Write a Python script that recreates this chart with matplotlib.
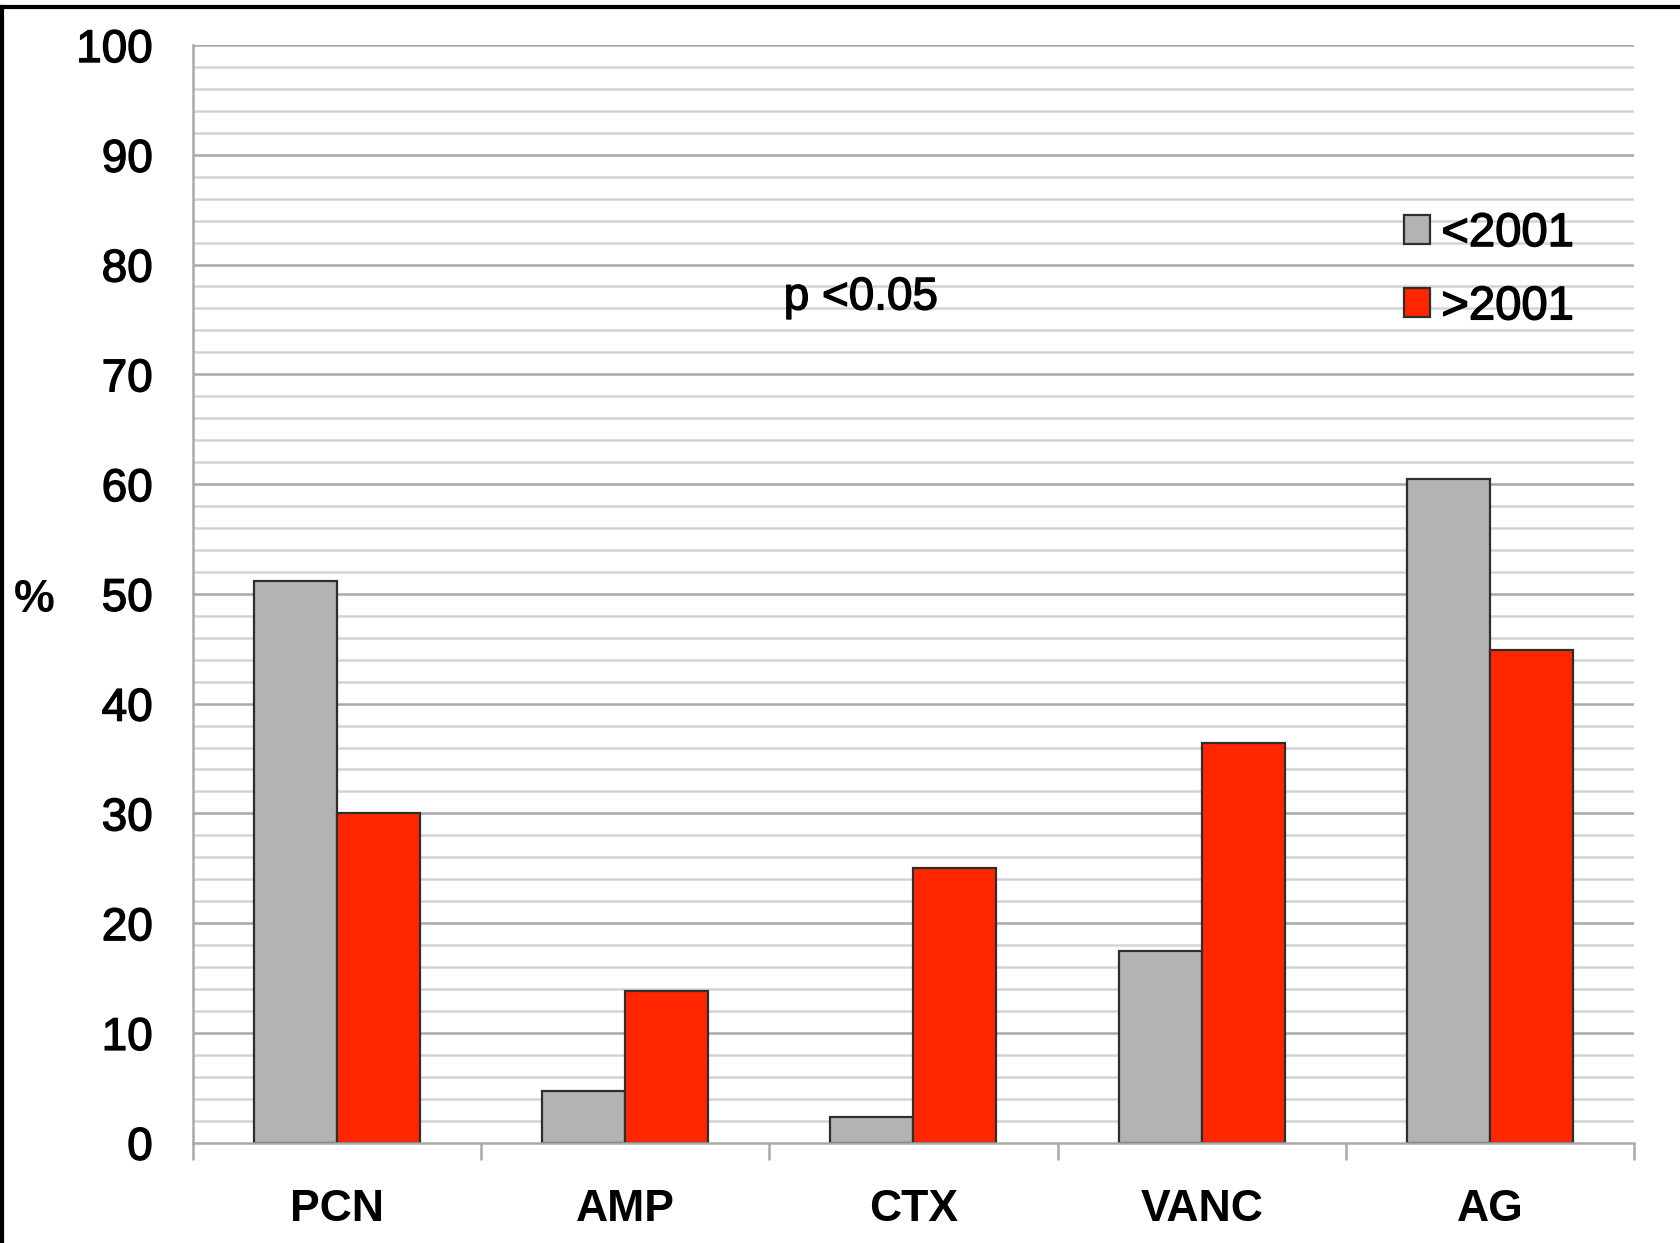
import matplotlib
matplotlib.use("Agg")
import matplotlib.pyplot as plt
import matplotlib.patheffects as pe
import numpy as np
from matplotlib.lines import Line2D
from matplotlib.patches import Patch

categories = ["PCN", "AMP", "CTX", "VANC", "AG"]
before_2001 = [51.2, 4.7, 2.3, 17.5, 60.5]
after_2001 = [30.0, 13.8, 25.0, 36.4, 44.9]
series_labels = ["<2001", ">2001"]
y_ticks = list(range(0, 101, 10))

GRAY = "#b3b3b3"
RED = "#ff2600"
EDGE = "#2e2e2e"
FONT = "Liberation Sans"
# slightly heavier strokes than the regular weight
HEAVY = [pe.withStroke(linewidth=1.0, foreground="black")]

fig = plt.figure(figsize=(16.81, 12.43), dpi=100)
ax = fig.add_axes([0.1148, 0.0807, 0.8572, 0.8831])

x = np.arange(len(categories))
width = 0.288
ax.bar(x - width / 2, before_2001, width, color=GRAY, edgecolor=EDGE, linewidth=1.6, zorder=3)
ax.bar(x + width / 2, after_2001, width, color=RED, edgecolor=EDGE, linewidth=1.6, zorder=3)

ax.set_xlim(-0.5, len(categories) - 0.5)
ax.set_ylim(0, 100)

# gridlines: minor every 2, major every 10
for v in np.arange(2, 100.1, 2):
    major = abs(v % 10) < 1e-9
    ax.axhline(v, color="#a9a9a9" if major else "#d4d4d4", linewidth=1.8, zorder=1)

ax.set_yticks(y_ticks)
ax.set_yticklabels([str(t) for t in y_ticks], fontsize=33, family=FONT, path_effects=HEAVY)
ax.tick_params(axis="y", length=0, pad=29)

ax.set_xticks(x)
ax.set_xticklabels(categories, fontsize=32, family=FONT, fontweight="bold")
ax.set_xticks(np.arange(-0.5, len(categories), 1), minor=True)
ax.tick_params(axis="x", which="major", length=0, pad=33)
ax.tick_params(axis="x", which="minor", length=12, width=1.8, color="#a9a9a9")

for side in ["top", "right"]:
    ax.spines[side].set_visible(False)
for side in ["left", "bottom"]:
    ax.spines[side].set_color("#a9a9a9")
    ax.spines[side].set_linewidth(1.8)
    ax.spines[side].set_zorder(4)

fig.text(0.008, 0.517, "%", fontsize=33, family=FONT, fontweight="bold", va="center", ha="left")
ax.text(1.55, 77.0, "p <0.05", fontsize=33, family=FONT, va="center", ha="left",
        path_effects=HEAVY)

handles = [
    Patch(facecolor=GRAY, edgecolor=EDGE, linewidth=1.6),
    Patch(facecolor=RED, edgecolor=EDGE, linewidth=1.6),
]
leg = ax.legend(handles, series_labels, loc="upper left", bbox_to_anchor=(0.827, 0.865),
                frameon=False, prop={"family": FONT, "size": 34},
                handlelength=0.55, handleheight=0.55, handletextpad=0.25, labelspacing=0.62,
                borderaxespad=0)
for t in leg.get_texts():
    t.set_path_effects(HEAVY)

# slide frame (top and left edges)
fig.add_artist(Line2D([0, 1], [0.9945, 0.9945], color="black", linewidth=3, transform=fig.transFigure))
fig.add_artist(Line2D([0.001, 0.001], [0, 0.9945], color="black", linewidth=3, transform=fig.transFigure))

fig.savefig("out.png", dpi=100)
